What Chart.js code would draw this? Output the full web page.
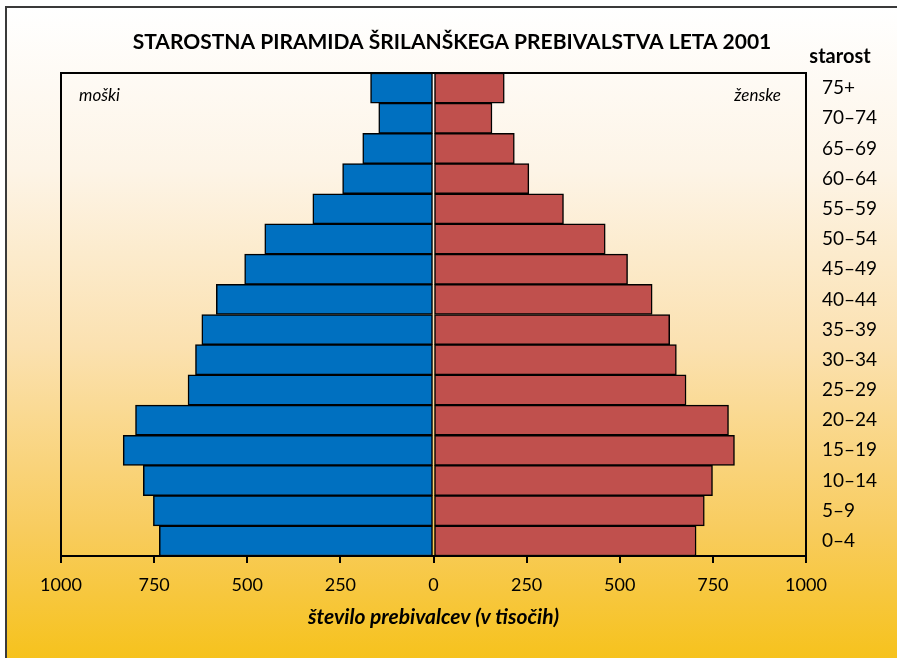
<!DOCTYPE html>
<html>
<head>
<meta charset="utf-8">
<script src="https://cdn.jsdelivr.net/npm/chart.js@4"></script>
<style>
  html, body { margin: 0; padding: 0; background: #fff; }
  #frame {
    position: absolute; left: 5px; top: 6px; width: 900px; height: 652px;
    border-top: 2px solid #3a3a3a; border-left: 2px solid #3a3a3a;
    background: linear-gradient(to bottom, #ffffff 0%, #fdf4e6 25%, #fbe1b0 52%, #f8cc5e 80%, #f6c21c 100%);
  }
  #wrap { position: absolute; left: 0; top: 0; width: 897px; height: 658px; }
</style>
</head>
<body>
<div id="frame"></div>
<div id="wrap"><canvas id="pyramid"></canvas></div>
<script>
const ageGroups = ['75+', '70–74', '65–69', '60–64', '55–59', '50–54', '45–49', '40–44',
                   '35–39', '30–34', '25–29', '20–24', '15–19', '10–14', '5–9', '0–4'];
const males = [169, 147, 190, 244, 324, 453, 507, 583, 622, 639, 659, 800, 833, 779, 752, 736];
const females = [190, 157, 217, 256, 349, 461, 521, 587, 634, 652, 678, 792, 808, 749, 727, 705];
const xTicks = [-1000, -750, -500, -250, 0, 250, 500, 750, 1000];

const FONT = 'Lato, "Open Sans", sans-serif';

// title, "starost", "moški"/"ženske" and the box round the plot
const extras = {
    id: 'extras',
    afterDraw(chart) {
        const ctx = chart.ctx;
        const a = chart.chartArea;
        ctx.save();
        ctx.strokeStyle = '#000';
        ctx.lineWidth = 2;
        ctx.beginPath();
        ctx.moveTo(a.left, a.bottom);
        ctx.lineTo(a.left, a.top);
        ctx.lineTo(a.right, a.top);
        ctx.stroke();

        ctx.fillStyle = '#000';
        ctx.textBaseline = 'middle';
        ctx.textAlign = 'center';
        ctx.font = 'bold 21px ' + FONT;
        ctx.fillText('STAROSTNA PIRAMIDA ŠRILANŠKEGA PREBIVALSTVA LETA 2001', 452, 42);
        ctx.font = 'bold 20px ' + FONT;
        ctx.fillText('starost', 840, 57);

        ctx.font = 'italic 17px ' + FONT;
        ctx.textAlign = 'left';
        ctx.fillText('moški', a.left + 18, 96);
        ctx.textAlign = 'right';
        ctx.fillText('ženske', a.right - 25, 96);
        ctx.restore();
    }
};

const ctx = document.getElementById('pyramid').getContext('2d');
new Chart(ctx, {
    type: 'bar',
    data: {
        labels: ageGroups,
        datasets: [
            {
                label: 'moški',
                data: males.map(v => -v),
                backgroundColor: '#0070c0',
                borderColor: '#000',
                borderWidth: 1.5,
                borderSkipped: false
            },
            {
                label: 'ženske',
                data: females,
                backgroundColor: '#c0504d',
                borderColor: '#000',
                borderWidth: 1.5,
                borderSkipped: false
            }
        ]
    },
    options: {
        indexAxis: 'y',
        responsive: true,
        maintainAspectRatio: false,
        animation: false,
        barPercentage: 1,
        categoryPercentage: 1,
        layout: { padding: { left: 61, top: 73, right: 0, bottom: 0 } },
        plugins: {
            legend: { display: false },
            tooltip: { enabled: false }
        },
        scales: {
            x: {
                stacked: true,
                min: xTicks[0],
                max: xTicks[xTicks.length - 1],
                afterFit: s => { s.height = 102; },
                afterBuildTicks: s => { s.ticks = xTicks.map(v => ({ value: v })); },
                ticks: {
                    color: '#000',
                    font: { family: FONT, size: 18 },
                    padding: 11,
                    maxRotation: 0,
                    callback: v => Math.abs(v)
                },
                grid: {
                    drawOnChartArea: false,
                    drawTicks: true,
                    tickLength: 7,
                    color: '#000',
                    lineWidth: 2
                },
                border: { display: true, color: '#000', width: 2 },
                title: {
                    display: true,
                    text: 'število prebivalcev (v tisočih)',
                    color: '#000',
                    font: { family: FONT, size: 21, weight: 'bold', style: 'italic' },
                    padding: { top: 0, bottom: 28 }
                }
            },
            y: {
                stacked: true,
                position: 'right',
                afterFit: s => { s.width = 91; },
                grid: { display: false, drawTicks: false },
                border: { display: true, color: '#000', width: 2 },
                ticks: {
                    color: '#000',
                    font: { family: FONT, size: 19 },
                    padding: 16,
                    crossAlign: 'near'
                }
            }
        }
    },
    plugins: [extras]
});
</script>
</body>
</html>
